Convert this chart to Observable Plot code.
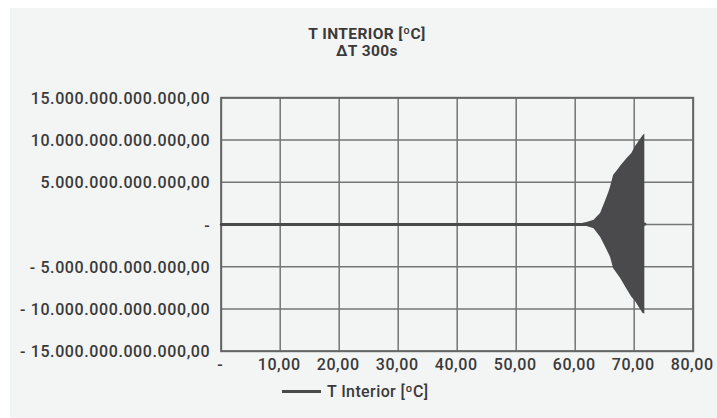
<!DOCTYPE html>
<html>
<head>
<meta charset="utf-8">
<script src="https://cdn.jsdelivr.net/npm/d3@7"></script>
<script src="https://cdn.jsdelivr.net/npm/@observablehq/plot@0.6"></script>
<style>
  html, body { margin: 0; padding: 0; background: #ffffff; }
  #wrap { position: relative; width: 717px; height: 418px; overflow: hidden; font-family: Roboto, "DejaVu Sans", sans-serif; color: #3a3a3a; }
  #panel { position: absolute; left: 10px; top: 8px; right: 0; bottom: 0; background: #f3f4f4; }
  #chart { position: absolute; left: 0; top: 0; }
  #title { position: absolute; left: 267px; width: 200px; top: 26px; text-align: center; font-weight: 700; font-size: 15.5px; line-height: 17px; letter-spacing: 0.4px; }
  #legend { position: absolute; left: 282px; top: 381px; height: 20px; display: flex; align-items: center; font-size: 16px; font-weight: 500; letter-spacing: 0.4px; }
  #legend .sw { width: 39px; height: 3px; background: #4a4a4c; margin-right: 6px; }
</style>
</head>
<body>
<div id="wrap">
  <div id="panel"></div>
  <div id="chart"></div>
  <div id="title"><div>T INTERIOR [ºC]</div><div>ΔT 300s</div></div>
  <div id="legend"><span class="sw"></span><span>T Interior [ºC]</span></div>
</div>
<script>
// Time axis (x) and upper / lower envelope of the oscillating series
const time  = [0, 10, 20, 30, 40, 50, 59, 60, 61, 62, 63.2, 64.3, 65.1, 65.7, 66.0, 66.5, 67.4, 67.7, 68.8, 69.6, 70.2, 71.5, 71.8];
const upper = [0, 0, 0, 0, 0, 0, 0, 0.02, 0.1, 0.25, 0.5, 1.3, 2.7, 3.8, 4.45, 5.8, 6.6, 6.9, 7.8, 8.4, 9.2, 10.5, 10.7];
const lower = [0, 0, 0, 0, 0, 0, 0, -0.02, -0.1, -0.25, -0.5, -1.5, -2.6, -3.45, -3.9, -5.2, -6.1, -6.4, -7.7, -8.6, -9.1, -10.55, -10.6];
const scaleE = 1e12;
const xTicks = [0, 10, 20, 30, 40, 50, 60, 70, 80];
const yTicks = [-15, -10, -5, 0, 5, 10, 15].map(v => v * scaleE);

const data = time.map((t, i) => ({ t, hi: upper[i] * scaleE, lo: lower[i] * scaleE }));

const loc = d3.formatLocale({ decimal: ",", thousands: ".", grouping: [3], currency: ["", ""] });
const fmt = loc.format(",.2f");
const fmtY = d => d === 0 ? "-" : (d < 0 ? "- " + fmt(-d) : fmt(d));
const fmtX = d => d === 0 ? "-" : fmt(d);

const plot = Plot.plot({
  width: 717,
  height: 418,
  marginTop: 97.3,
  marginBottom: 67.3,
  marginLeft: 220.7,
  marginRight: 24.3,
  style: { background: "transparent", fontFamily: "Roboto, 'DejaVu Sans', sans-serif", fontSize: "16px", color: "#3a3a3a" },
  x: { domain: [0, 80] },
  y: { domain: [-15 * scaleE, 15 * scaleE] },
  marks: [
    Plot.gridX(xTicks, { stroke: "#747474", strokeOpacity: 1, strokeWidth: 1.5 }),
    Plot.gridY(yTicks, { stroke: "#747474", strokeOpacity: 1, strokeWidth: 1.5 }),
    Plot.frame({ stroke: "#666666", strokeWidth: 2 }),
    Plot.areaY(data, { x: "t", y1: "lo", y2: "hi", fill: "#4a4a4c" }),
    Plot.line(data, { x: "t", y: d => (d.hi + d.lo) / 2, stroke: "#4a4a4c", strokeWidth: 3 }),
    Plot.axisX(xTicks, { tickSize: 0, tickPadding: 7, tickFormat: fmtX, label: null, dx: -1, fontWeight: 500, fill: "#3a3a3a" }),
    Plot.axisY(yTicks, { tickSize: 0, tickPadding: 11, tickFormat: fmtY, label: null, dy: 1, fontWeight: 500, fill: "#3a3a3a" })
  ]
});
plot.querySelectorAll("text").forEach(t => t.style.letterSpacing = "0.6px");
document.getElementById("chart").appendChild(plot);
</script>
</body>
</html>
